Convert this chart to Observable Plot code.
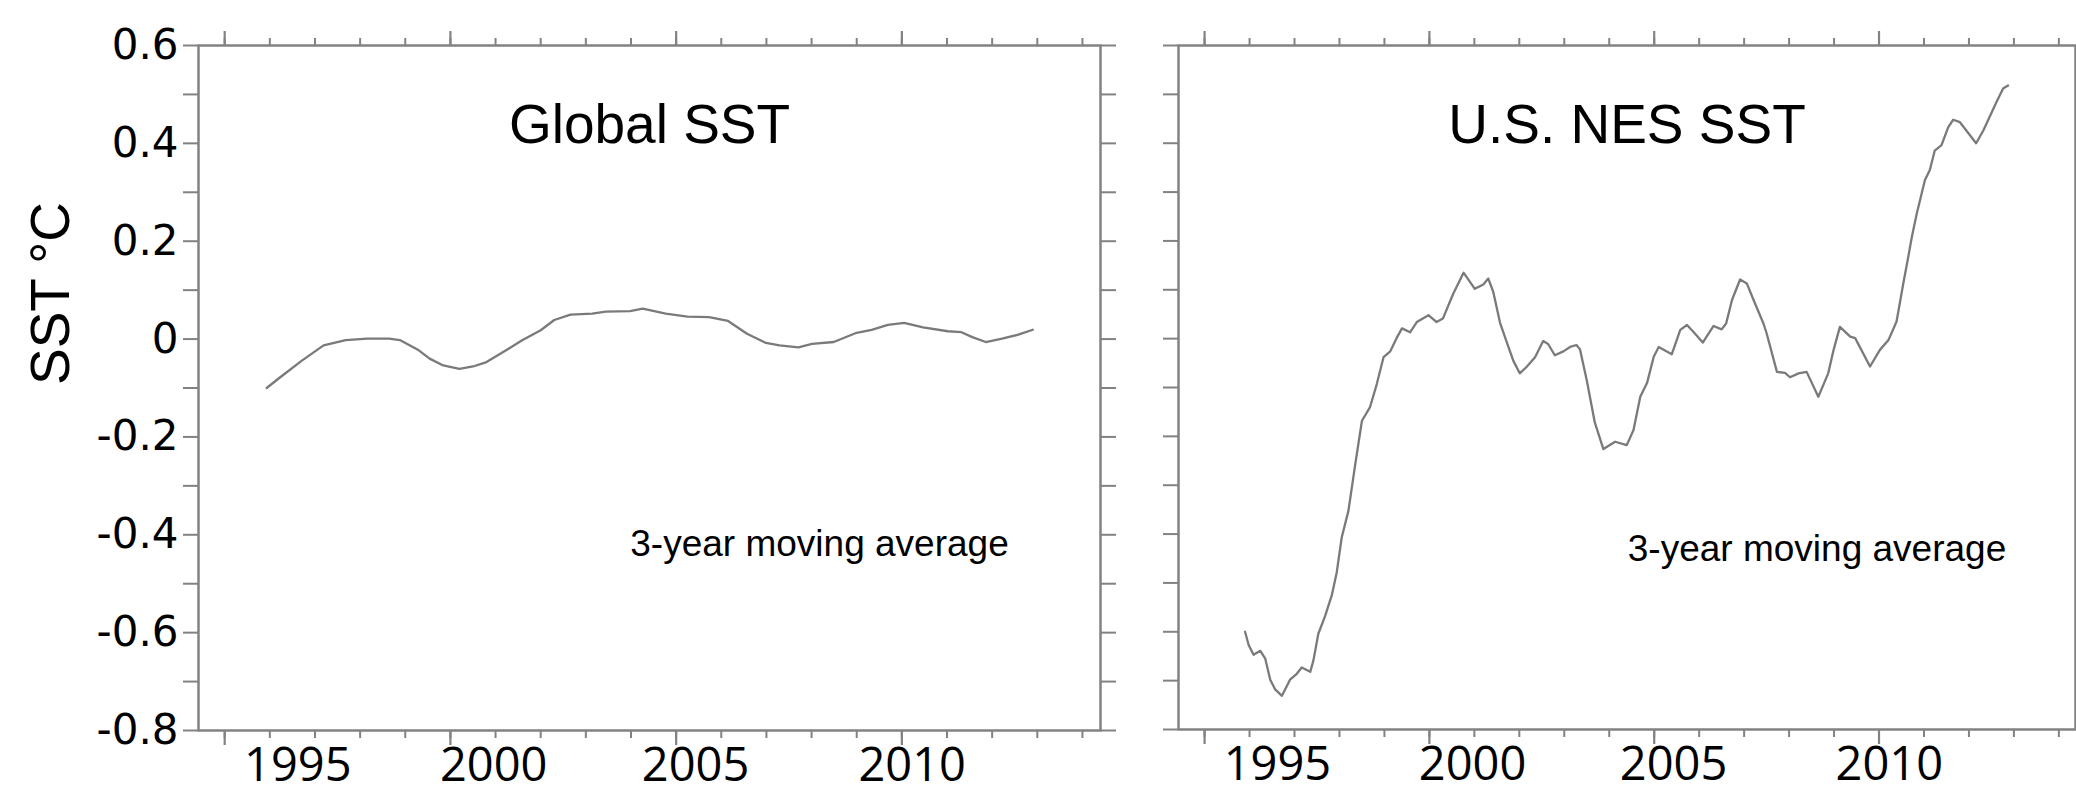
<!DOCTYPE html>
<html><head><meta charset="utf-8">
<script src="https://cdn.jsdelivr.net/npm/d3@7"></script>
<script src="https://cdn.jsdelivr.net/npm/@observablehq/plot@0.6"></script>
<style>
html,body{margin:0;padding:0;background:#fff;}
#wrap{position:relative;width:2076px;height:808px;overflow:hidden;background:#fff;}
#left,#right{position:absolute;top:0;}
#left{left:0;} #right{left:1140px;}
svg{overflow:visible;}
</style></head><body><div id="wrap"><div id="left"></div><div id="right"></div></div>
<script>
// ---- data ----
const globalYears = [1995.93,1996.23,1996.71,1997.19,1997.68,1998.16,1998.64,1998.88,1999.30,1999.54,1999.84,2000.20,2000.50,2000.80,2001.16,2001.58,2002.00,2002.30,2002.66,2003.14,2003.44,2003.98,2004.26,2004.77,2005.25,2005.73,2006.15,2006.57,2006.99,2007.29,2007.71,2008.01,2008.49,2008.97,2009.33,2009.69,2010.05,2010.47,2011.02,2011.32,2011.56,2011.86,2012.22,2012.58,2012.90];
const globalSST = [-0.100,-0.078,-0.044,-0.013,-0.002,0.001,0.001,-0.002,-0.023,-0.040,-0.054,-0.061,-0.056,-0.047,-0.027,-0.003,0.018,0.039,0.050,0.052,0.056,0.057,0.062,0.052,0.046,0.045,0.037,0.011,-0.008,-0.013,-0.017,-0.010,-0.006,0.012,0.019,0.029,0.033,0.024,0.016,0.014,0.004,-0.006,0.001,0.009,0.019];

const nesYears = [1995.90,1995.98,1996.09,1996.24,1996.35,1996.46,1996.57,1996.72,1996.90,1997.05,1997.16,1997.35,1997.42,1997.53,1997.68,1997.83,1997.94,1998.05,1998.20,1998.35,1998.50,1998.68,1998.83,1998.98,1999.13,1999.27,1999.39,1999.57,1999.72,1999.98,2000.16,2000.30,2000.53,2000.76,2001.01,2001.20,2001.31,2001.42,2001.57,2001.72,2001.87,2002.01,2002.16,2002.35,2002.53,2002.64,2002.79,2002.98,2003.13,2003.27,2003.35,2003.50,2003.68,2003.87,2004.13,2004.39,2004.54,2004.69,2004.84,2004.99,2005.10,2005.39,2005.58,2005.73,2005.87,2006.08,2006.32,2006.50,2006.60,2006.73,2006.91,2007.06,2007.21,2007.43,2007.50,2007.73,2007.91,2008.02,2008.21,2008.39,2008.65,2008.87,2008.99,2009.13,2009.36,2009.47,2009.80,2010.02,2010.21,2010.39,2010.54,2010.65,2010.73,2010.84,2011.02,2011.13,2011.24,2011.39,2011.54,2011.65,2011.80,2012.16,2012.32,2012.61,2012.76,2012.87];
const nesSST = [-0.600,-0.627,-0.647,-0.639,-0.655,-0.698,-0.718,-0.731,-0.698,-0.686,-0.673,-0.682,-0.659,-0.604,-0.568,-0.525,-0.478,-0.407,-0.352,-0.258,-0.168,-0.140,-0.093,-0.038,-0.026,0.001,0.021,0.013,0.034,0.048,0.034,0.041,0.092,0.135,0.102,0.111,0.123,0.096,0.033,-0.007,-0.046,-0.071,-0.058,-0.038,-0.005,-0.011,-0.034,-0.026,-0.017,-0.013,-0.022,-0.085,-0.172,-0.226,-0.211,-0.218,-0.187,-0.119,-0.091,-0.037,-0.017,-0.032,0.018,0.028,0.014,-0.008,0.026,0.019,0.031,0.079,0.121,0.113,0.079,0.031,0.011,-0.068,-0.070,-0.079,-0.071,-0.068,-0.119,-0.071,-0.023,0.024,0.004,0.001,-0.057,-0.023,-0.003,0.035,0.113,0.167,0.208,0.256,0.324,0.345,0.385,0.396,0.433,0.448,0.443,0.400,0.426,0.484,0.512,0.518];

const xMinorTicks = [1995,1996,1997,1998,1999,2000,2001,2002,2003,2004,2005,2006,2007,2008,2009,2010,2011,2012,2013,2014];
const xMajorTicks = [1995,2000,2005,2010];
// the year labels sit a little off their ticks in the original
const xLabelPositions = [1996.62, 2000.96, 2005.43, 2010.23];
const xTickLabels = ["1995","2000","2005","2010"];
const yMinorTicks = [-0.8,-0.7,-0.6,-0.5,-0.4,-0.3,-0.2,-0.1,0,0.1,0.2,0.3,0.4,0.5,0.6];
const yLabelTicks = [0.6,0.4,0.2,0,-0.2,-0.4,-0.6,-0.8];
const yTickLabels = ["0.6","0.4","0.2","0","-0.2","-0.4","-0.6","-0.8"];
const panelTitles = ["Global SST","U.S. NES SST"];
const noteText = "3-year moving average";
const yAxisTitle = "SST \u00B0C";

// ---- styling ----
const AX = "#828282";
const LINE = "#7a7a7a";
const SANS = "'Liberation Sans', Arial, sans-serif";
const VERD = "'DejaVu Sans', Verdana, sans-serif";
const CAL = "'Open Sans', 'Liberation Sans', sans-serif";

function tickAxes(showRightTicks) {
  const blank = () => "";
  const m = [
    Plot.axisX(xMinorTicks, {anchor: "bottom", tickSize: 8, tickFormat: blank, stroke: AX, strokeWidth: 2, label: null}),
    Plot.axisX(xMajorTicks, {anchor: "bottom", tickSize: 15, tickFormat: blank, stroke: AX, strokeWidth: 2.2, label: null}),
    Plot.axisX(xMinorTicks, {anchor: "top", tickSize: 8, tickFormat: blank, stroke: AX, strokeWidth: 2, label: null}),
    Plot.axisX(xMajorTicks, {anchor: "top", tickSize: 15, tickFormat: blank, stroke: AX, strokeWidth: 2.2, label: null}),
    Plot.axisY(yMinorTicks, {anchor: "left", tickSize: 15, tickFormat: blank, stroke: AX, strokeWidth: 2, label: null})
  ];
  if (showRightTicks) m.push(Plot.axisY(yMinorTicks, {anchor: "right", tickSize: 15, tickFormat: blank, stroke: AX, strokeWidth: 2, label: null}));
  return m;
}

function xLabels() {
  return Plot.text(xLabelPositions, {x: d => d, text: (d, i) => xTickLabels[i], frameAnchor: "bottom", dy: 50,
    fontSize: 47, fontFamily: CAL, fill: "#000"});
}

const leftPlot = Plot.plot({
  width: 1140, height: 808,
  marginLeft: 198, marginRight: 40, marginTop: 45, marginBottom: 78,
  x: {domain: [1994.42, 2014.40]},
  y: {domain: [-0.8, 0.6]},
  style: {background: "transparent", overflow: "visible"},
  marks: [
    ...tickAxes(true),
    Plot.frame({stroke: AX, strokeWidth: 2.5}),
    Plot.line(globalYears, {x: d => d, y: (d, i) => globalSST[i], stroke: LINE, strokeWidth: 2.3}),
    Plot.text(yLabelTicks, {y: d => d, text: (d, i) => yTickLabels[i], frameAnchor: "left", dx: -20, textAnchor: "end",
      fontSize: 42, fontFamily: VERD, fill: "#000"}),
    xLabels(),
    Plot.text([yAxisTitle], {text: d => d, frameAnchor: "left", dx: -147, dy: -3, rotate: -90, fontSize: 55, fontFamily: SANS, fill: "#000"}),
    Plot.text([panelTitles[0]], {text: d => d, frameAnchor: "top", dy: 58, fontSize: 55, fontFamily: SANS, fill: "#000"}),
    Plot.text([noteText], {text: d => d, frameAnchor: "middle", dx: 170, dy: 156, fontSize: 37, fontFamily: SANS, fill: "#000"})
  ]
});

const rightPlot = Plot.plot({
  width: 936, height: 808,
  marginLeft: 38, marginRight: 1, marginTop: 45, marginBottom: 79,
  x: {domain: [1994.42, 2014.37]},
  y: {domain: [-0.8, 0.6]},
  style: {background: "transparent", overflow: "visible"},
  marks: [
    ...tickAxes(false),
    Plot.frame({stroke: AX, strokeWidth: 2.5}),
    Plot.line(nesYears, {x: d => d, y: (d, i) => nesSST[i], stroke: LINE, strokeWidth: 2.3}),
    xLabels(),
    Plot.text([panelTitles[1]], {text: d => d, frameAnchor: "top", dy: 58, fontSize: 55, fontFamily: SANS, fill: "#000"}),
    Plot.text([noteText], {text: d => d, frameAnchor: "middle", dx: 190, dy: 162, fontSize: 37, fontFamily: SANS, fill: "#000"})
  ]
});

document.getElementById("left").appendChild(leftPlot);
document.getElementById("right").appendChild(rightPlot);
</script>
</body></html>
